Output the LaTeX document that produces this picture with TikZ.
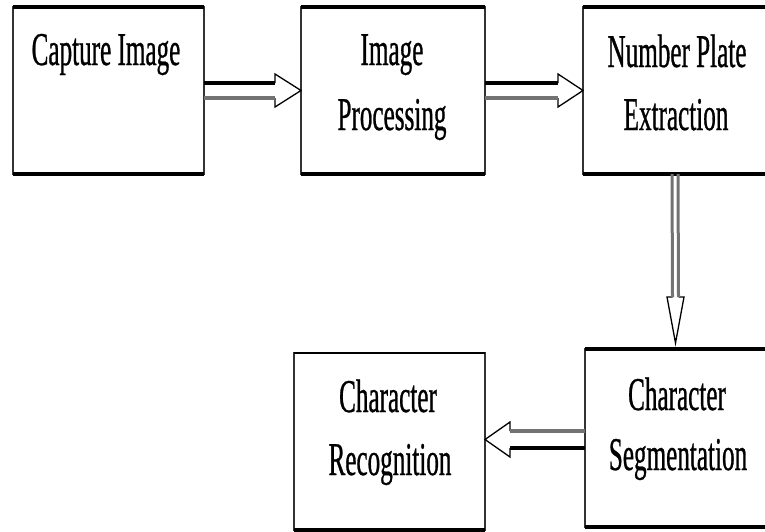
\documentclass[tikz,border=0pt]{standalone}
\usepackage{fontspec}
\usetikzlibrary{calc}
\newfontfamily\condserif[FakeStretch=0.535,FakeBold=0.6]{Liberation Serif}
\tikzset{
  box/.style={draw=black!80, line width=1.2pt, fill=white, inner sep=0pt, outer sep=0pt},
  edgethick/.style={line width=3.5pt, black},
  edgemid/.style={line width=2pt, black},
  txt/.style={font=\condserif\fontsize{47}{60}\selectfont, anchor=base, inner sep=0pt},
  head/.style={draw=black, line width=1.3pt, fill=white, line join=miter},
  shaftdark/.style={line width=4pt, black},
  shaftgray/.style={line width=4pt, black!55},
  vshaft/.style={line width=3pt, black!55},
}
\begin{document}
\begin{tikzpicture}[x=1pt,y=-1pt]
\useasboundingbox (0,0) rectangle (765,531);
\clip (0,0) rectangle (765,531);

% boxes
\node[box, minimum width=191pt, minimum height=167pt] (b1) at (108.5,90.5) {};
\node[box, minimum width=184pt, minimum height=167pt] (b2) at (393,90.5) {};
\node[box, minimum width=188pt, minimum height=167pt] (b3) at (677,90.5) {};
\node[box, minimum width=191pt, minimum height=177pt] (b4) at (389.5,441.5) {};
\node[box, minimum width=185pt, minimum height=178pt] (b5) at (677.5,438) {};

% thick top/bottom edges
\foreach \b in {b1,b2,b3,b5}{
  \draw[edgethick] (\b.north west) -- (\b.north east);
  \draw[edgethick] (\b.south west) -- (\b.south east);
}
\draw[edgemid] (b4.north west) -- (b4.north east);
\draw[edgethick] (b4.south west) -- (b4.south east);

% texts
\node[txt] (t1) at (106,65) {Capture Image};
\node[txt] (t2a) at (392,65) {Image};
\node[txt] (t2b) at (392,130) {Processing};
\node[txt] (t3a) at (677,67) {Number Plate};
\node[txt] (t3b) at (676,130) {Extraction};
\node[txt] (t4a) at (388,412) {Character};
\node[txt] (t4b) at (390,475) {Recognition};
\node[txt] (t5a) at (677,410) {Character};
\node[txt] (t5b) at (678,470) {Segmentation};

% arrow 1: b1 -> b2
\filldraw[head] ($(b2.west)+(-26,-7.5)$) -- ($(b2.west)+(-26,-16.5)$) -- (b2.west)
  -- ($(b2.west)+(-26,16.5)$) -- ($(b2.west)+(-26,7.5)$);
\draw[shaftdark] ($(b1.east)+(0,-7.5)$) -- ($(b2.west)+(-26,-7.5)$);
\draw[shaftgray] ($(b1.east)+(0,7.5)$) -- ($(b2.west)+(-26,7.5)$);

% arrow 2: b2 -> b3
\filldraw[head] ($(b3.west)+(-25,-7.5)$) -- ($(b3.west)+(-25,-16.5)$) -- (b3.west)
  -- ($(b3.west)+(-25,16.5)$) -- ($(b3.west)+(-25,7.5)$);
\draw[shaftdark] ($(b2.east)+(0,-7.5)$) -- ($(b3.west)+(-25,-7.5)$);
\draw[shaftgray] ($(b2.east)+(0,7.5)$) -- ($(b3.west)+(-25,7.5)$);

% arrow 3: b3 -> b5 (vertical)
\coordinate (vtip) at ($(b5.north)+(-2,-6)$);
\coordinate (vtop) at ($(b3.south)+(-2,0)$);
\filldraw[head] ($(vtip)+(-3,-46)$) -- ($(vtip)+(-8.5,-46)$) -- (vtip)
  -- ($(vtip)+(8.5,-46)$) -- ($(vtip)+(3,-46)$);
\draw[vshaft] ($(vtop)+(-3,0)$) -- ($(vtip)+(-3,-46)$);
\draw[vshaft] ($(vtop)+(3,0)$) -- ($(vtip)+(3,-46)$);

% arrow 4: b5 -> b4 (leftwards)
\coordinate (ltip) at ($(b4.east |- b5.west)+(0,1.5)$);
\coordinate (lstart) at ($(b5.west)+(0,1.5)$);
\filldraw[head] ($(ltip)+(25,-8.5)$) -- ($(ltip)+(25,-17.5)$) -- (ltip)
  -- ($(ltip)+(25,17.5)$) -- ($(ltip)+(25,8.5)$);
\draw[shaftgray] ($(lstart)+(0,-8.5)$) -- ($(ltip)+(25,-8.5)$);
\draw[shaftdark] ($(lstart)+(0,8.5)$) -- ($(ltip)+(25,8.5)$);
\end{tikzpicture}
\end{document}
